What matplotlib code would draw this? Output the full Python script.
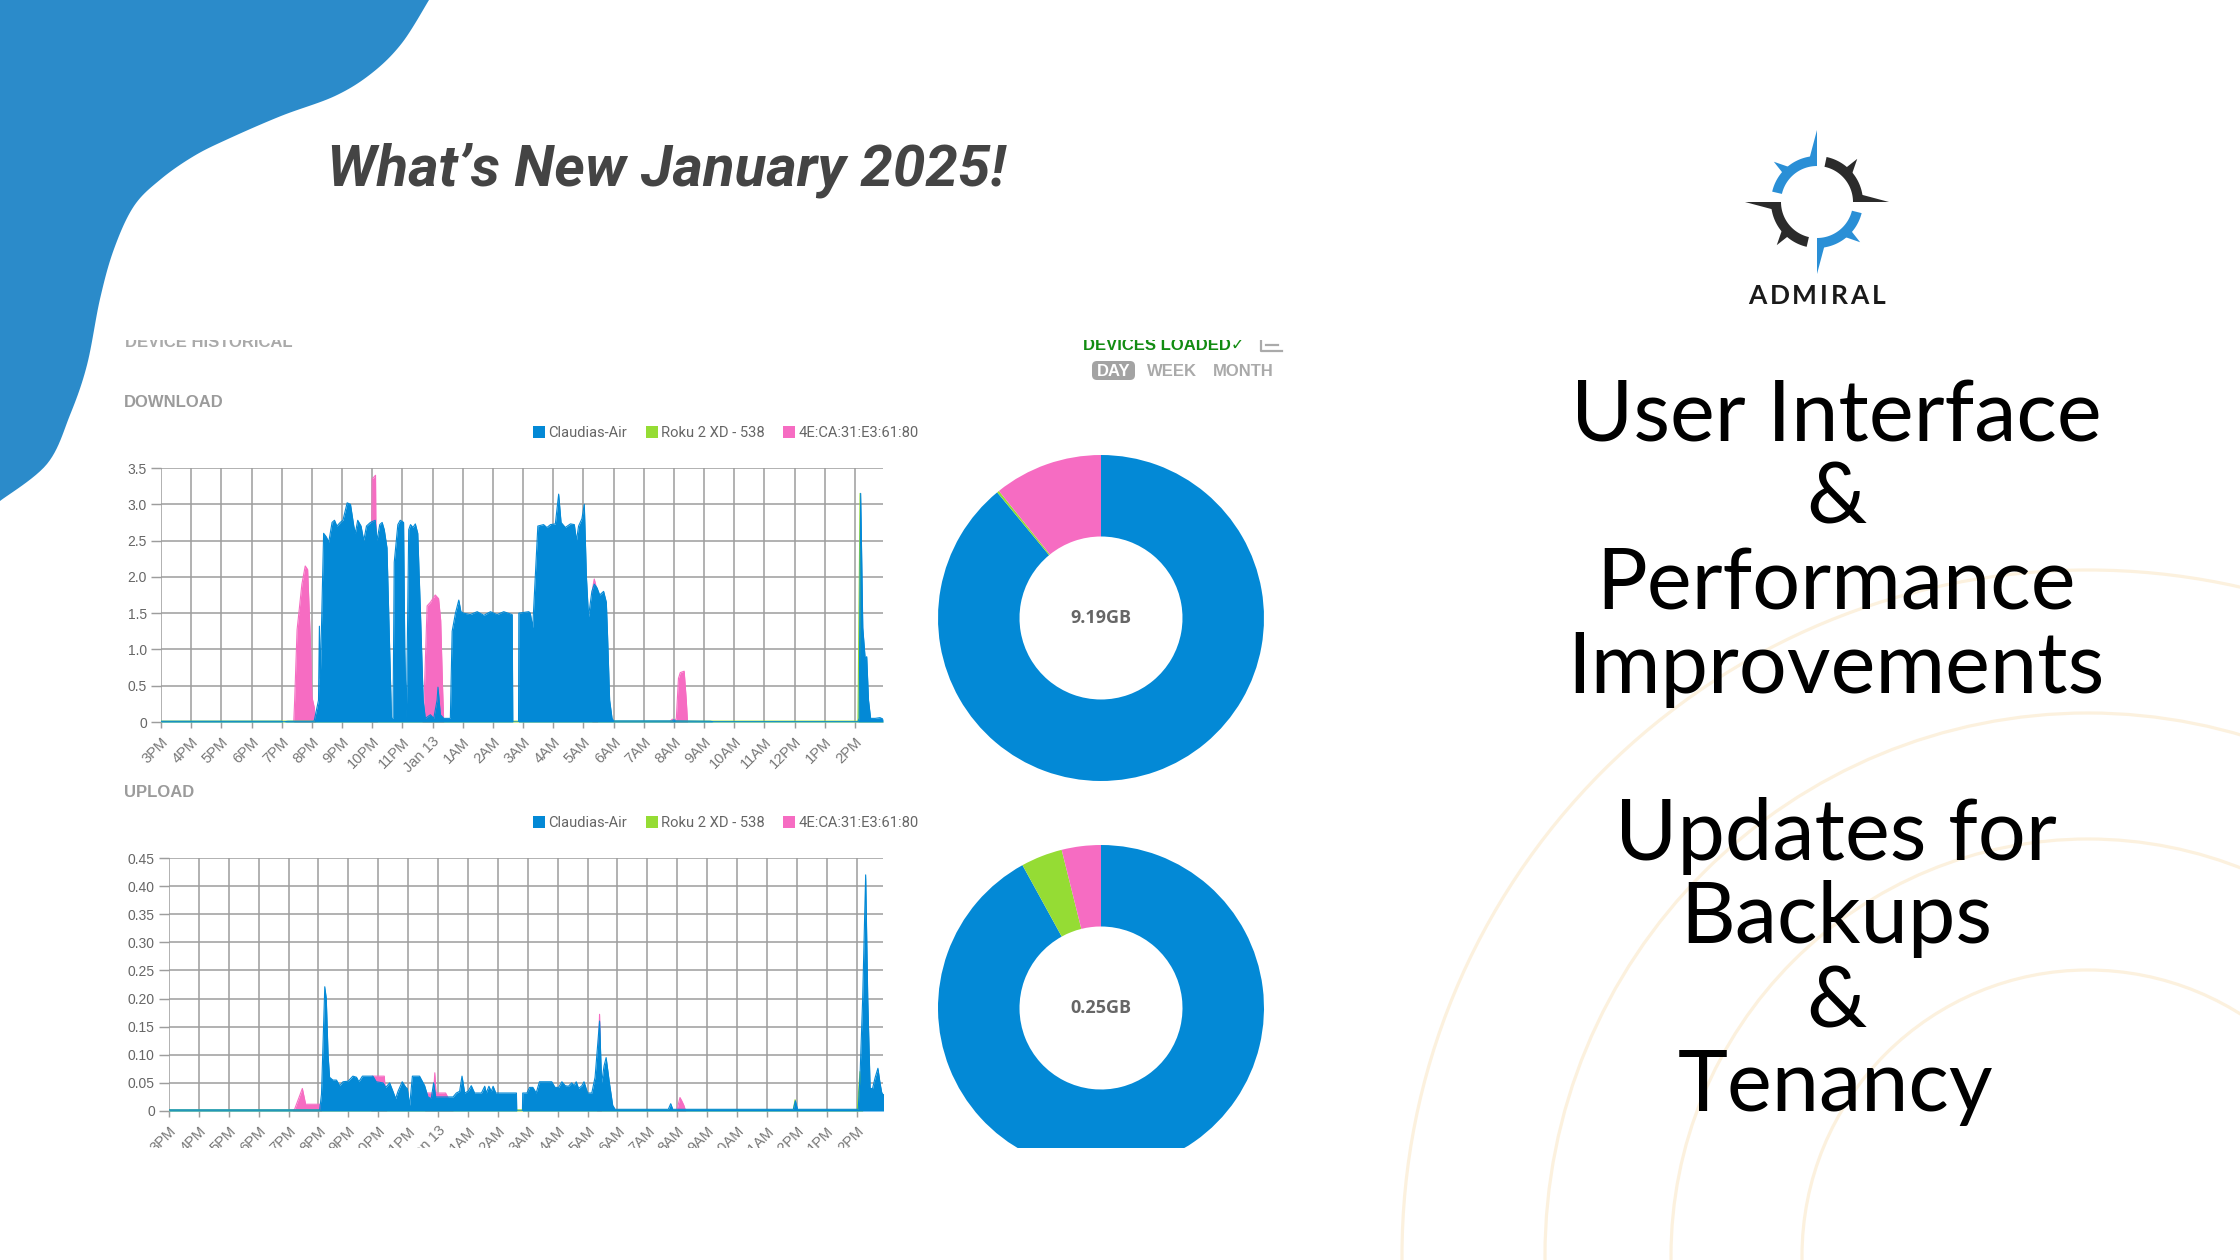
import numpy as np
import matplotlib
matplotlib.use("Agg")
import matplotlib.pyplot as plt
from matplotlib import font_manager
from matplotlib.font_manager import FontProperties
from matplotlib.patches import Polygon, Rectangle, FancyBboxPatch, Circle, Patch

W, H = 2240, 1260

# ---- data (hours since 3PM, GB) ----
HOUR_LABELS = ["3PM", "4PM", "5PM", "6PM", "7PM", "8PM", "9PM", "10PM", "11PM", "Jan 13",
               "1AM", "2AM", "3AM", "4AM", "5AM", "6AM", "7AM", "8AM", "9AM", "10AM",
               "11AM", "12PM", "1PM", "2PM"]
SERIES = ["Claudias-Air", "Roku 2 XD - 538", "4E:CA:31:E3:61:80"]
COLORS = ["#0389d6", "#95dc34", "#f66cc2"]

DL_BLUE_H = [0.0, 4.0, 4.05, 4.2, 5.05, 5.08, 5.22, 5.25, 5.28, 5.39, 5.48, 5.56, 5.67, 5.75,
             5.83, 5.94, 6.03, 6.17, 6.28, 6.39, 6.44, 6.52, 6.63, 6.72, 6.81, 6.94, 7.10, 7.16,
             7.25, 7.33, 7.40, 7.49, 7.64, 7.69, 7.73, 7.85, 7.93, 8.04, 8.08, 8.13, 8.15, 8.21,
             8.27, 8.35, 8.43, 8.51, 8.60, 8.69, 8.76, 8.93, 9.04, 9.15, 9.18, 9.26, 9.37, 9.59,
             9.65, 9.76, 9.87, 9.94, 10.03, 10.25, 10.48, 10.70, 10.92, 11.14, 11.36, 11.64,
             11.66, 11.85, 11.86, 12.19, 12.24, 12.32, 12.49, 12.68, 12.79, 12.91, 13.07, 13.18,
             13.26, 13.40, 13.57, 13.70, 13.77, 13.84, 13.95, 14.03, 14.10, 14.17, 14.28, 14.36,
             14.45, 14.54, 14.67, 14.76, 14.80, 14.87, 14.95, 15.0, 16.95, 17.0, 17.05, 18.2,
             18.3, 23.10, 23.14, 23.19, 23.26, 23.34, 23.39, 23.45, 23.52, 23.67, 23.83, 23.93]
DL_BLUE_V = [0.01, 0.01, 0.0, 0.01, 0.01, 0.02, 0.3, 1.32, 0.6, 2.6, 2.55, 2.48, 2.75, 2.78,
             2.70, 2.75, 2.78, 3.02, 3.00, 2.70, 2.60, 2.78, 2.70, 2.50, 2.70, 2.75, 2.78, 2.50,
             2.72, 2.75, 2.65, 2.40, 0.05, 0.05, 2.2, 2.72, 2.78, 2.75, 1.0, 0.05, 0.6, 2.65,
             2.72, 2.68, 2.73, 2.60, 1.5, 0.3, 0.05, 0.1, 0.05, 0.3, 0.48, 0.1, 0.05, 0.05,
             1.25, 1.50, 1.68, 1.52, 1.50, 1.48, 1.52, 1.47, 1.52, 1.48, 1.52, 1.48,
             0.0, 0.0, 1.5, 1.52, 1.50, 1.30, 2.70, 2.72, 2.68, 2.72, 2.73, 3.14,
             2.75, 2.68, 2.73, 2.72, 2.50, 2.70, 2.80, 3.00, 2.0, 1.45, 1.80, 1.90,
             1.85, 1.75, 1.80, 1.65, 1.20, 0.30, 0.05, 0.015, 0.015, 0.03, 0.015, 0.01,
             0.004, 0.004, 0.05, 3.15, 1.3, 0.87, 0.9, 0.3, 0.05, 0.05, 0.06, 0.04]
DL_PINK_H = [0.0, 4.40, 4.43, 4.51, 4.67, 4.78, 4.86, 4.95, 5.00, 5.08, 5.12, 6.92, 7.00, 7.11,
             7.17, 8.65, 8.70, 8.82, 8.93, 9.09, 9.20, 9.27, 9.33, 9.37, 14.28, 14.31, 14.36,
             14.43, 14.47, 16.85, 16.95, 17.0, 17.08, 17.15, 17.21, 17.34, 17.41, 17.45, 23.93]
DL_PINK_V = [0, 0, 0.3, 1.27, 1.90, 2.15, 2.10, 1.13, 0.35, 0.2, 0, 0, 3.35, 3.40,
             0, 0, 0.05, 1.60, 1.65, 1.75, 1.70, 1.40, 0.5, 0, 0, 1.85, 1.97,
             1.85, 0, 0, 0.04, 0.0, 0.05, 0.60, 0.68, 0.70, 0.30, 0, 0]
DL_GREEN_H = [0.0, 23.10, 23.17, 23.22, 23.93]
DL_GREEN_V = [0.012, 0.012, 3.15, 0.02, 0.012]

UP_BLUE_H = [0.0, 5.04, 5.10, 5.21, 5.26, 5.32, 5.37, 5.48, 5.60, 5.71,
             5.82, 5.99, 6.15, 6.27, 6.35, 6.47, 6.82, 6.93, 7.16, 7.25,
             7.38, 7.49, 7.58, 7.66, 7.80, 7.92, 7.97, 8.05, 8.14, 8.38,
             8.55, 8.66, 8.77, 8.85, 8.92, 9.50, 9.61, 9.72, 9.80, 9.89,
             10.00, 10.11, 10.22, 10.45, 10.56, 10.61, 10.70, 10.78, 10.84, 10.93,
             11.62, 11.63, 11.82, 11.83, 11.97, 12.06, 12.17, 12.28, 12.39, 12.80,
             12.91, 13.03, 13.14, 13.25, 13.36, 13.47, 13.55, 13.62, 13.70, 13.81,
             13.88, 14.00, 14.14, 14.25, 14.40, 14.47, 14.55, 14.62, 14.73, 14.84,
             14.92, 16.70, 16.78, 16.85, 20.88, 20.95, 21.02, 23.05, 23.11, 23.20,
             23.30, 23.37, 23.45, 23.53, 23.62, 23.71, 23.78, 23.84, 23.93]
UP_BLUE_V = [0.002, 0.002, 0.030, 0.221, 0.200, 0.100, 0.060, 0.055, 0.055, 0.045,
             0.052, 0.053, 0.062, 0.060, 0.052, 0.062, 0.062, 0.052, 0.050, 0.042,
             0.050, 0.035, 0.022, 0.035, 0.052, 0.042, 0.040, 0.010, 0.062, 0.062,
             0.045, 0.025, 0.022, 0.050, 0.025, 0.025, 0.032, 0.035, 0.062, 0.032,
             0.035, 0.045, 0.032, 0.032, 0.044, 0.032, 0.044, 0.035, 0.044, 0.032,
             0.032, 0.0, 0.0, 0.032, 0.032, 0.042, 0.042, 0.032, 0.052, 0.052,
             0.042, 0.042, 0.052, 0.045, 0.044, 0.050, 0.045, 0.052, 0.040, 0.045,
             0.052, 0.032, 0.032, 0.060, 0.160, 0.050, 0.080, 0.095, 0.050, 0.010,
             0.003, 0.003, 0.013, 0.003, 0.003, 0.018, 0.003, 0.003, 0.060, 0.200,
             0.420, 0.200, 0.040, 0.040, 0.060, 0.076, 0.050, 0.032, 0.030]
UP_PINK_H = [0.0, 4.12, 4.20, 4.46, 4.57, 5.04, 5.10, 6.75, 6.80, 7.20, 7.28, 8.55, 8.62, 8.85,
             8.89, 8.93, 9.25, 9.35, 9.45, 9.50, 14.30, 14.40, 14.46, 16.98, 17.09, 17.15,
             17.22, 17.28, 23.93]
UP_PINK_V = [0, 0, 0.003, 0.040, 0.012, 0.012, 0, 0, 0.062, 0.062, 0, 0, 0.032, 0.032,
             0.068, 0.032, 0.032, 0.022, 0.022, 0, 0, 0.172, 0, 0, 0.024, 0.018,
             0.010, 0, 0]
UP_GREEN_H = [0.0, 20.88, 20.94, 21.0, 23.02, 23.11, 23.20, 23.93]
UP_GREEN_V = [0.002, 0.002, 0.02, 0.002, 0.002, 0.07, 0.0, 0.0]

DL_TOTALS = [8.18, 0.02, 0.99]      # GB per device
UP_TOTALS = [0.230, 0.0103, 0.0097]
DL_LABEL = "9.19GB"
UP_LABEL = "0.25GB"

DL_YTICKS = [0, 0.5, 1.0, 1.5, 2.0, 2.5, 3.0, 3.5]
DL_YLABELS = ["0", "0.5", "1.0", "1.5", "2.0", "2.5", "3.0", "3.5"]
UP_YTICKS = [0, 0.05, 0.10, 0.15, 0.20, 0.25, 0.30, 0.35, 0.40, 0.45]
UP_YLABELS = ["0", "0.05", "0.10", "0.15", "0.20", "0.25", "0.30", "0.35", "0.40", "0.45"]

RIGHT_LINES = ["User Interface", "&", "Performance", "Improvements",
               "Updates for", "Backups", "&", "Tenancy"]
RIGHT_BASE = [441, 524, 610, 693, 860, 943, 1027, 1111]

# decoration outline of the blue corner shape (pixels)
BLOB = [(429, 0), (402, 43), (372, 73), (335, 96), (281, 116), (228, 139), (194, 156),
        (161, 179), (134, 206), (114, 249), (100, 299), (87, 365), (70, 415), (47, 464),
        (0, 501)]
ARC_R = [686, 543, 417, 286]


def pick(*names):
    for n in names:
        try:
            font_manager.findfont(FontProperties(family=n), fallback_to_default=False)
            return n
        except ValueError:
            continue
    return "DejaVu Sans"


NARROW = pick("Liberation Sans Narrow", "Roboto")
SANS = pick("Liberation Sans", "DejaVu Sans")
BODY = pick("Lato", "Open Sans")
BOLDUI = pick("Open Sans", "DejaVu Sans")
GRID = "#9d9d9d"


def smooth(pts, n=12):
    # Catmull-Rom through the outline points
    p = np.array(pts, float)
    p = np.vstack([p[0], p, p[-1]])
    out = []
    for i in range(1, len(p) - 2):
        p0, p1, p2, p3 = p[i - 1], p[i], p[i + 1], p[i + 2]
        for t in np.linspace(0, 1, n, endpoint=False):
            t2, t3 = t * t, t * t * t
            out.append(0.5 * (2 * p1 + (-p0 + p2) * t + (2 * p0 - 5 * p1 + 4 * p2 - p3) * t2
                              + (-p0 + 3 * p1 - 3 * p2 + p3) * t3))
    out.append(p[-2])
    return np.array(out)


def area_chart(ax, series, xmax, yticks, ylabels):
    for (h, v), c in series:
        ax.fill_between(h, v, 0, color=c, lw=0, zorder=2)
        ax.plot(h, v, color=c, lw=0.8, zorder=2)
    ax.set_xlim(0, xmax)
    ax.set_ylim(0, yticks[-1])
    ax.set_xticks(range(len(HOUR_LABELS)))
    ax.set_xticklabels(HOUR_LABELS, rotation=45, ha="right", rotation_mode="anchor",
                       fontsize=10.5, color="#777777", family=SANS)
    ax.set_yticks(yticks)
    ax.set_yticklabels(ylabels, fontsize=10, color="#666666", family=SANS)
    ax.tick_params(axis="y", length=7.2, width=1.05, color=GRID, pad=3)
    ax.tick_params(axis="x", length=4, width=1.05, color=GRID, pad=5)
    ax.grid(True, color=GRID, lw=1.1)
    ax.set_axisbelow(True)
    for s in ax.spines.values():
        s.set_visible(False)
    ax.set_facecolor("none")


def donut(ax, totals, label):
    ax.pie(totals, colors=COLORS, startangle=90, counterclock=False, radius=1,
           wedgeprops=dict(width=0.5, linewidth=0))
    ax.set_xlim(-1.043, 1.043)
    ax.set_ylim(-1.043, 1.043)
    ax.set_aspect("equal")
    ax.text(0, 0, label, ha="center", va="center", fontsize=13, fontweight="bold",
            color="#666666", family=BOLDUI)
    ax.axis("off")


def ring_arc(cx, cy, a0, a1, r0, r1):
    a = np.radians(np.linspace(a0, a1, 40))
    outer = np.c_[cx + r1 * np.cos(a), cy - r1 * np.sin(a)]
    inner = np.c_[cx + r0 * np.cos(a[::-1]), cy - r0 * np.sin(a[::-1])]
    return np.vstack([outer, inner])


def polar(cx, cy, r, deg):
    a = np.radians(deg)
    return (cx + r * np.cos(a), cy - r * np.sin(a))


def draw_logo(ax, cx, cy):
    blue, dark = "#2a8fd6", "#2b2b2b"
    r0, r1 = 36, 46
    arcs = [(90, 167, blue), (0, 78, dark), (-90, -14, blue), (180, 257, dark)]
    for a0, a1, c in arcs:
        ax.add_patch(Polygon(ring_arc(cx, cy, a0, a1, r0, r1), closed=True, fc=c, ec="none"))
        # long cardinal blade
        ax.add_patch(Polygon([polar(cx, cy, r1 - 2, a0), polar(cx, cy, r1 - 2, a0 + 10),
                              polar(cx, cy, 72, a0)], closed=True, fc=c, ec="none"))
        # small thorn in the middle of the arc
        m = a0 + 45
        ax.add_patch(Polygon([polar(cx, cy, r1 - 2, m - 7), polar(cx, cy, r1 - 2, m + 5),
                              polar(cx, cy, 59, m + 2)], closed=True, fc=c, ec="none"))
    # hand-tracked wordmark
    letters = "ADMIRAL"
    widths = [0.68, 0.74, 0.92, 0.28, 0.63, 0.68, 0.52]
    px = 19 * 100 / 72
    track = 3.2
    total = sum(widths) * px + track * (len(letters) - 1)
    x = cx - total / 2
    for ch, w in zip(letters, widths):
        ax.text(x + w * px / 2, 304, ch, ha="center", va="baseline", fontsize=19,
                fontweight="bold", color="#1a1a1a", family=BODY)
        x += w * px + track


fig = plt.figure(figsize=(W / 100, H / 100), dpi=100, facecolor="white")

bg = fig.add_axes([0, 0, 1, 1], zorder=0)
bg.set_xlim(0, W)
bg.set_ylim(H, 0)
bg.axis("off")

for r in ARC_R:
    bg.add_patch(Circle((2088, 1256), r, fill=False, ec="#fcf1de", lw=2.3))

edge = smooth(BLOB)
bg.add_patch(Polygon(np.vstack([[0, 0], edge]), closed=True, fc="#2b8bca", ec="none"))

title_size = 47 if NARROW == "Liberation Sans Narrow" else 42
bg.text(327, 186, "What\u2019s New January 2025!", fontsize=title_size, fontweight="bold",
        style="italic", color="#444444", family=NARROW, va="baseline", ha="left")

for line, yb in zip(RIGHT_LINES, RIGHT_BASE):
    bg.text(1836, yb, line, ha="center", va="baseline", fontsize=61, color="black",
            family=BODY)

draw_logo(bg, 1817, 202)

# screenshot header texts
bg.text(125, 347, "DEVICE HISTORICAL", fontsize=12, fontweight="bold", color="#aaaaaa",
        family=SANS, va="baseline")
bg.text(1083, 350, "DEVICES LOADED\u2713", fontsize=12, fontweight="bold", color="#128c12",
        family=[SANS, "DejaVu Sans"], va="baseline")
bg.plot([1261, 1261, 1282], [336, 351, 351], color="#aaaaaa", lw=1.6)
bg.plot([1266, 1278], [345, 345], color="#aaaaaa", lw=1.6)
bg.add_patch(FancyBboxPatch((1092, 361), 43, 19, boxstyle="round,pad=0,rounding_size=5",
                            fc="#a3a3a3", ec="none"))
bg.text(1113.5, 376, "DAY", fontsize=12, fontweight="bold", color="white", family=SANS,
        ha="center", va="baseline")
bg.text(1147, 376, "WEEK", fontsize=12, fontweight="bold", color="#aaaaaa", family=SANS,
        va="baseline")
bg.text(1213, 376, "MONTH", fontsize=12, fontweight="bold", color="#aaaaaa", family=SANS,
        va="baseline")
bg.text(124, 407, "DOWNLOAD", fontsize=12, fontweight="bold", color="#9b9b9b", family=SANS,
        va="baseline")
bg.text(124, 797, "UPLOAD", fontsize=12, fontweight="bold", color="#9b9b9b", family=SANS,
        va="baseline")

# charts
ax_dl = fig.add_axes([161 / W, 1 - 722 / H, 722 / W, 254 / H], zorder=1)
area_chart(ax_dl, [((DL_PINK_H, DL_PINK_V), COLORS[2]), ((DL_GREEN_H, DL_GREEN_V), COLORS[1]),
                   ((DL_BLUE_H, DL_BLUE_V), COLORS[0])], 23.93, DL_YTICKS, DL_YLABELS)

ax_up = fig.add_axes([169 / W, 1 - 1111 / H, 714 / W, 253 / H], zorder=1)
area_chart(ax_up, [((UP_PINK_H, UP_PINK_V), COLORS[2]), ((UP_GREEN_H, UP_GREEN_V), COLORS[1]),
                   ((UP_BLUE_H, UP_BLUE_V), COLORS[0])], 23.88, UP_YTICKS, UP_YLABELS)

pie_dl = fig.add_axes([931 / W, 1 - 788 / H, 340 / W, 340 / H], zorder=1)
donut(pie_dl, DL_TOTALS, DL_LABEL)
pie_up = fig.add_axes([931 / W, 1 - 1178 / H, 340 / W, 340 / H], zorder=1)
donut(pie_up, UP_TOTALS, UP_LABEL)

leg_size = 11.7 if NARROW == "Liberation Sans Narrow" else 10.6
leg_px = leg_size * 100 / 72
handles = [Patch(fc=c, ec="none") for c in COLORS]
for yc in (433, 823):
    fig.legend(handles, SERIES, loc="center left", bbox_to_anchor=(533 / W, 1 - yc / H),
               ncol=3, frameon=False, handlelength=12 / leg_px, handleheight=12 / leg_px,
               handletextpad=3 / leg_px, columnspacing=19 / leg_px, borderpad=0,
               borderaxespad=0, prop=FontProperties(family=NARROW, size=leg_size),
               labelcolor="#666666")

# screenshot crop edges
top = fig.add_axes([0, 0, 1, 1], zorder=5)
top.set_xlim(0, W)
top.set_ylim(H, 0)
top.axis("off")
top.patch.set_visible(False)
top.add_patch(Rectangle((105, 300), 1200, 40, fc="white", ec="none"))
top.add_patch(Rectangle((95, 1148), 1210, 112, fc="white", ec="none"))

fig.savefig("out.png", dpi=100, facecolor="white")
